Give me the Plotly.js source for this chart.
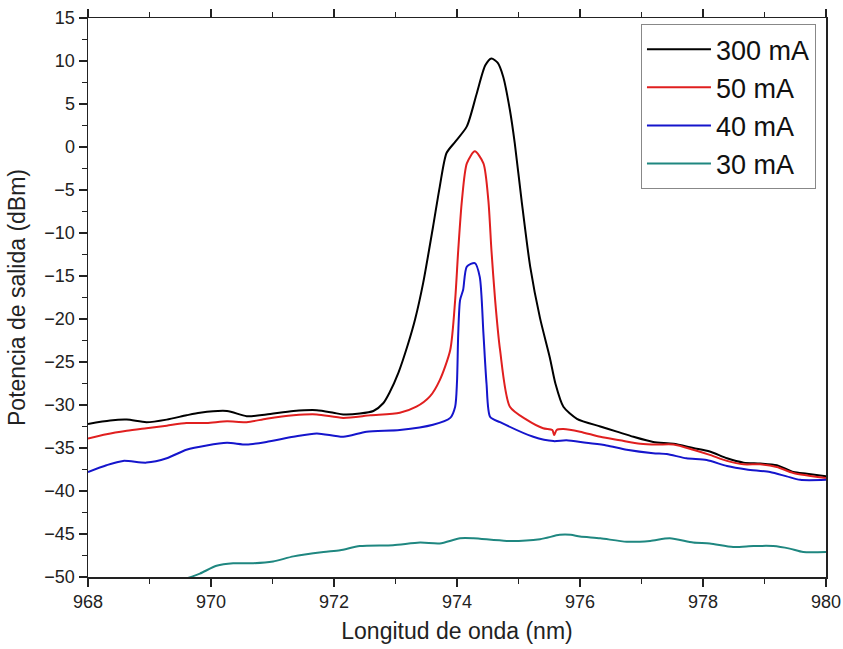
<!DOCTYPE html>
<html>
<head>
<meta charset="utf-8">
<script src="https://cdn.plot.ly/plotly-3.0.1.min.js"></script>
<style>html,body{margin:0;padding:0;background:#fff;}#chart{width:843px;height:649px;}</style>
</head>
<body>
<div id="chart"></div>
<script>
const x300 = [968,968.36,968.63,968.95,969.28,969.6,969.82,970.26,970.58,970.9,971.34,971.72,971.99,972.15,972.42,972.64,972.8,972.9,973.05,973.2,973.32,973.45,973.61,973.72,973.83,973.97,974.16,974.32,974.46,974.56,974.66,974.75,974.86,974.94,975.05,975.19,975.35,975.51,975.6,975.73,975.95,976.33,976.6,976.87,977.19,977.52,977.84,978.11,978.39,978.66,978.93,979.2,979.47,979.69,980];
const y300 = [-32.2,-31.8,-31.7,-32.0,-31.7,-31.2,-30.9,-30.7,-31.3,-31.1,-30.7,-30.6,-30.9,-31.1,-31.0,-30.7,-29.8,-28.6,-26.2,-23.0,-20.0,-15.8,-9.3,-4.6,-0.7,0.6,2.4,6.2,9.5,10.3,9.8,8.2,4.3,0.4,-6.2,-13.9,-19.9,-24.5,-27.5,-30.2,-31.6,-32.5,-33.1,-33.7,-34.3,-34.5,-35.0,-35.4,-36.2,-36.7,-36.8,-37.0,-37.8,-38.0,-38.3];

const x50 = [968,968.3,968.63,968.95,969.28,969.6,969.93,970.26,970.58,970.9,971.34,971.72,972.15,972.59,973.07,973.34,973.56,973.72,973.89,973.97,974.02,974.08,974.16,974.29,974.43,974.51,974.56,974.62,974.7,974.86,975.13,975.4,975.55,975.58,975.62,975.73,976.0,976.33,976.65,976.98,977.25,977.52,977.84,978.11,978.39,978.66,978.93,979.2,979.47,980];
const y50 = [-33.9,-33.4,-33.0,-32.7,-32.4,-32.1,-32.1,-31.9,-32.0,-31.6,-31.2,-31.1,-31.5,-31.2,-30.9,-30.2,-29.0,-27.1,-23.6,-17.8,-12,-6.2,-1.9,-0.5,-1.9,-6.2,-12,-17.8,-23.6,-30.2,-31.7,-32.7,-32.9,-33.5,-32.9,-32.8,-33.1,-33.7,-34.1,-34.5,-34.6,-34.6,-35.2,-35.8,-36.5,-36.9,-36.9,-37.2,-37.9,-38.5];

const x40 = [968,968.3,968.57,968.95,969.28,969.6,969.93,970.26,970.58,970.9,971.34,971.72,972.15,972.53,973.07,973.61,973.89,973.97,974.0,974.02,974.05,974.1,974.16,974.29,974.37,974.43,974.48,974.54,974.7,975.24,975.57,975.78,976.1,976.43,976.76,977.19,977.41,977.73,978.06,978.39,978.71,979.09,979.36,979.58,980];
const y40 = [-37.8,-37.0,-36.5,-36.7,-36.2,-35.2,-34.7,-34.4,-34.6,-34.3,-33.7,-33.3,-33.7,-33.1,-32.9,-32.3,-31.5,-30.2,-27.3,-21.7,-17.8,-16.6,-13.9,-13.5,-15.1,-21.7,-27.5,-31.4,-32.0,-33.7,-34.2,-34.1,-34.4,-34.7,-35.2,-35.6,-35.7,-36.2,-36.4,-37.1,-37.5,-37.8,-38.3,-38.7,-38.7];

const x30 = [969.55,969.82,970.09,970.36,970.69,971.01,971.34,971.83,972.1,972.42,972.96,973.4,973.72,974.05,974.27,974.81,975.35,975.67,975.85,976.0,976.33,976.76,977.14,977.46,977.84,978.11,978.49,978.82,979.14,979.41,979.63,980];
const y30 = [-50.3,-49.6,-48.7,-48.4,-48.4,-48.2,-47.6,-47.1,-46.9,-46.4,-46.3,-46.0,-46.1,-45.5,-45.5,-45.8,-45.6,-45.1,-45.1,-45.3,-45.5,-45.9,-45.8,-45.5,-46.0,-46.1,-46.5,-46.4,-46.4,-46.7,-47.1,-47.1];

const names = ["300 mA","50 mA","40 mA","30 mA"];
const colors = ["#000000","#e01f1f","#1515cc","#1f8780"];
const xs = [x300,x50,x40,x30];
const ys = [y300,y50,y40,y30];

const traces = names.map((n,i)=>({
  x: xs[i], y: ys[i], name: n, type:'scatter', mode:'lines',
  line:{color:colors[i], width:2, shape:'spline', smoothing:0.7}
}));

const FF = 'Arial, Liberation Sans, sans-serif';
const axisFont = {family:FF, size:18, color:'#222'};
const layout = {
  width:843, height:649,
  margin:{l:88, r:17, t:18, b:72},
  paper_bgcolor:'#fff', plot_bgcolor:'#fff',
  showlegend:true,
  legend:{x:0.9864, xanchor:'right', y:0.989, yanchor:'top',
    bgcolor:'#fff', bordercolor:'#888', borderwidth:1,
    font:{family:FF, size:27, color:'#111'},
    itemwidth:64, tracegroupgap:0},
  xaxis:{range:[968,980], tick0:968, dtick:2, ticks:'outside', ticklen:8, tickwidth:1.5,
    tickcolor:'#222', showline:true, linecolor:'#222', linewidth:1.5, mirror:'allticks',
    showgrid:false, zeroline:false, tickfont:axisFont,
    minor:{dtick:1, ticks:'outside', ticklen:5, tickwidth:1.5, tickcolor:'#222', showgrid:false},
    title:{text:'Longitud de onda (nm)', font:{family:FF, size:23, color:'#222'}, standoff:12}},
  yaxis:{range:[-50,15], tick0:-50, dtick:5, ticks:'outside', ticklen:8, tickwidth:1.5,
    tickcolor:'#222', showline:true, linecolor:'#222', linewidth:1.5, mirror:true,
    showgrid:false, zeroline:false, tickfont:axisFont,
    minor:{dtick:2.5, ticks:'outside', ticklen:5, tickwidth:1.5, tickcolor:'#222', showgrid:false},
    title:{text:'Potencia de salida (dBm)', font:{family:FF, size:23, color:'#222'}, standoff:12}}
};
Plotly.newPlot('chart', traces, layout, {displayModeBar:false, staticPlot:true});
</script>
</body>
</html>
